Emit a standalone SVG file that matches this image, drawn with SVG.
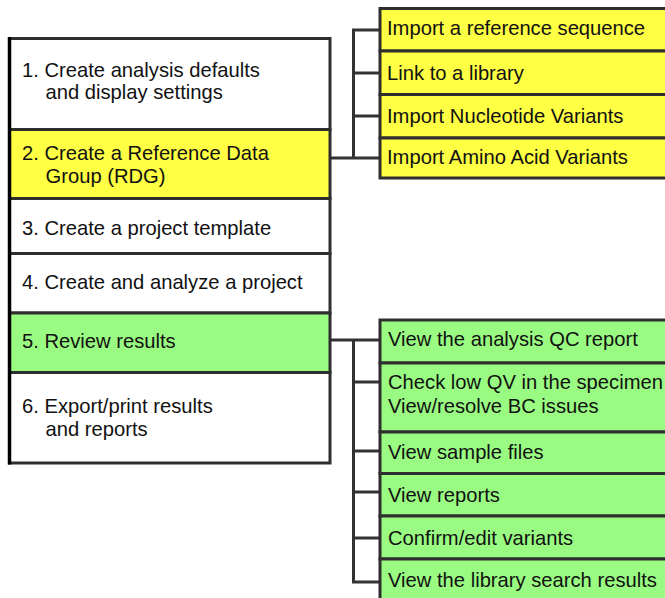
<svg xmlns="http://www.w3.org/2000/svg" width="665" height="598" viewBox="0 0 665 598">
  <style>
    .box { stroke: #2e2e2e; stroke-width: 3; }
    .white { fill: #ffffff; }
    .yellow { fill: #ffff44; }
    .green { fill: #9afb82; }
    .txt { font-family: "Liberation Sans", Arial, Helvetica, sans-serif; font-size: 20.2px; fill: #111111; }
    .wire { stroke: #333333; stroke-width: 3; fill: none; stroke-linejoin: miter; }
  </style>
  <rect width="665" height="598" fill="#ffffff"/>

  <!-- connectors -->
  <g id="connectors" class="wire">
    <!-- step 2 bracket -->
    <path d="M330 158 H380"/>
    <path d="M380 30 H353.5 V158"/>
    <path d="M353.5 73 H380"/>
    <path d="M353.5 116 H380"/>
    <!-- step 5 bracket -->
    <path d="M330 340 H380"/>
    <path d="M353.5 340 V582 H380"/>
    <path d="M353.5 382 H380"/>
    <path d="M353.5 451 H380"/>
    <path d="M353.5 492 H380"/>
    <path d="M353.5 538 H380"/>
  </g>

  <!-- workflow steps -->
  <g id="step1">
    <rect class="box white" x="9.5" y="38.5" width="320.5" height="91"/>
    <text class="txt" x="22" y="76.5">1. Create analysis defaults</text>
    <text class="txt" x="45.5" y="99">and display settings</text>
  </g>
  <g id="step2">
    <rect class="box yellow" x="9.5" y="129.5" width="320.5" height="69"/>
    <text class="txt" x="22" y="160">2. Create a Reference Data</text>
    <text class="txt" x="45.5" y="183">Group (RDG)</text>
  </g>
  <g id="step3">
    <rect class="box white" x="9.5" y="198.5" width="320.5" height="55"/>
    <text class="txt" x="22" y="235">3. Create a project template</text>
  </g>
  <g id="step4">
    <rect class="box white" x="9.5" y="253.5" width="320.5" height="59.5"/>
    <text class="txt" x="22" y="289">4. Create and analyze a project</text>
  </g>
  <g id="step5">
    <rect class="box green" x="9.5" y="313" width="320.5" height="59.5"/>
    <text class="txt" x="22" y="348">5. Review results</text>
  </g>
  <g id="step6">
    <rect class="box white" x="9.5" y="372.5" width="320.5" height="90.5"/>
    <text class="txt" x="22" y="413">6. Export/print results</text>
    <text class="txt" x="45.5" y="436">and reports</text>
  </g>
  <!-- heavier left edge of the step column -->
  <line x1="9.5" y1="37" x2="9.5" y2="464.5" stroke="#000000" stroke-width="3.5"/>

  <!-- reference data group tasks -->
  <g id="rdg-import-reference">
    <rect class="box yellow" x="380" y="8.5" width="300" height="42.5"/>
    <text class="txt" x="387" y="35">Import a reference sequence</text>
  </g>
  <g id="rdg-link-library">
    <rect class="box yellow" x="380" y="51" width="300" height="43.5"/>
    <text class="txt" x="387" y="80">Link to a library</text>
  </g>
  <g id="rdg-import-nucleotide">
    <rect class="box yellow" x="380" y="94.5" width="300" height="43.5"/>
    <text class="txt" x="387" y="123">Import Nucleotide Variants</text>
  </g>
  <g id="rdg-import-amino">
    <rect class="box yellow" x="380" y="138" width="300" height="40"/>
    <text class="txt" x="387" y="164">Import Amino Acid Variants</text>
  </g>

  <!-- review tasks -->
  <g id="review-qc">
    <rect class="box green" x="380" y="320" width="300" height="43"/>
    <text class="txt" x="388" y="346">View the analysis QC report</text>
  </g>
  <g id="review-qv-bc">
    <rect class="box green" x="380" y="363" width="300" height="69"/>
    <text class="txt" x="388" y="389">Check low QV in the specimen</text>
    <text class="txt" x="388" y="413">View/resolve BC issues</text>
  </g>
  <g id="review-sample-files">
    <rect class="box green" x="380" y="432" width="300" height="41.5"/>
    <text class="txt" x="388" y="459">View sample files</text>
  </g>
  <g id="review-reports">
    <rect class="box green" x="380" y="473.5" width="300" height="42.5"/>
    <text class="txt" x="388" y="502">View reports</text>
  </g>
  <g id="review-variants">
    <rect class="box green" x="380" y="516" width="300" height="43"/>
    <text class="txt" x="388" y="545">Confirm/edit variants</text>
  </g>
  <g id="review-library-search">
    <rect class="box green" x="380" y="559" width="300" height="50"/>
    <text class="txt" x="388" y="587">View the library search results</text>
  </g>
</svg>
